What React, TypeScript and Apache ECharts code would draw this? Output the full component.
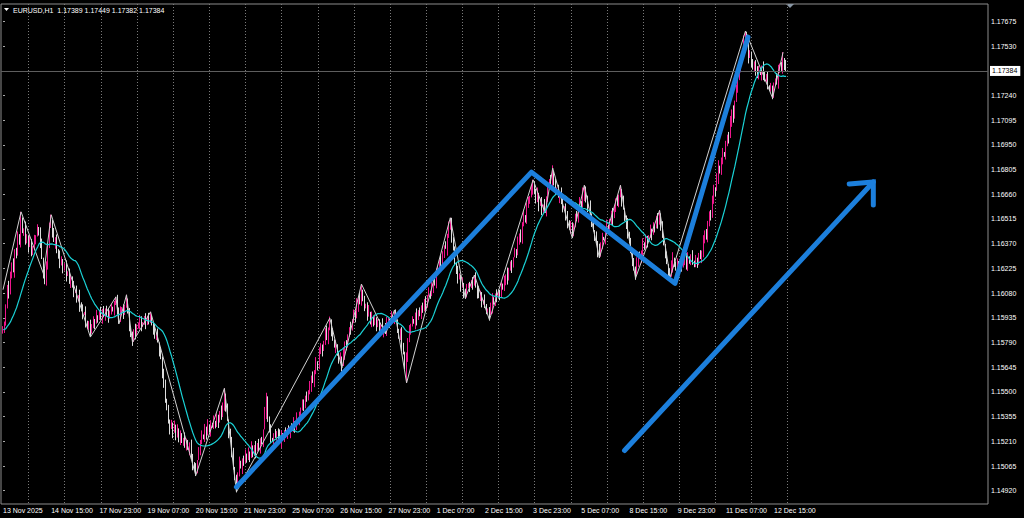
import { useEffect, useRef } from "react";
import * as echarts from "echarts";

// ---------- DATA ----------
const symbolText = "EURUSD,H1";
const headerOHLC = ["1.17389", "1.17449", "1.17382", "1.17384"]; // last bar O H L C

const yTickLabels = [
  "1.17675", "1.17530", "1.17240", "1.17095", "1.16950", "1.16805", "1.16660",
  "1.16515", "1.16370", "1.16225", "1.16080", "1.15935", "1.15790", "1.15645",
  "1.15500", "1.15355", "1.15210", "1.15065", "1.14920",
];

const xTickLabels = [
  "13 Nov 2025", "14 Nov 15:00", "17 Nov 23:00", "19 Nov 07:00", "20 Nov 15:00",
  "21 Nov 23:00", "25 Nov 07:00", "26 Nov 15:00", "27 Nov 23:00", "1 Dec 07:00",
  "2 Dec 15:00", "3 Dec 23:00", "5 Dec 07:00", "8 Dec 15:00", "9 Dec 23:00",
  "11 Dec 07:00", "12 Dec 15:00",
];
const xTickBars = [0, 32, 64, 96, 128, 160, 192, 224, 256, 288, 320, 352, 384, 416, 448, 480, 512];

// first hourly bar of each trading day (vertical dotted grid)
const dayStartBars = [17, 41, 65, 89, 113, 137, 161, 185, 209, 233, 257, 281, 305, 329, 353, 377, 401, 425, 449, 473, 497, 521];

// hourly closes, in 1e-5 units above 1.00000 (15870 = 1.15870)
const closes = [
  15870, 15905, 15990, 16120, 16080, 16190, 16260, 16210, 16330, 16300,
  16410, 16380, 16500, 16440, 16460, 16380, 16410, 16350, 16390, 16320,
  16340, 16390, 16420, 16460, 16450, 16360, 16280, 16190, 16140, 16250,
  16360, 16470, 16510, 16430, 16380, 16400, 16330, 16290, 16250, 16280,
  16220, 16240, 16180, 16200, 16150, 16170, 16120, 16080, 16100, 16040,
  16060, 16010, 15990, 15950, 15970, 15910, 15880, 15900, 15850, 15890,
  15920, 15900, 15950, 15930, 15960, 15940, 15980, 15950, 15990, 15960,
  15930, 15970, 16000, 15980, 16010, 16030, 15980, 15950, 15970, 15990,
  15960, 16010, 16040, 15960, 15880, 15830, 15810, 15860, 15840, 15880,
  15900, 15920, 15880, 15910, 15930, 15900, 15940, 15920, 15950, 15890,
  15860, 15820, 15840, 15790, 15740, 15700, 15620, 15540, 15460, 15400,
  15330, 15290, 15320, 15260, 15300, 15240, 15270, 15220, 15250, 15200,
  15230, 15180, 15210, 15160, 15180, 15120, 15080, 15050, 15030, 15100,
  15160, 15210, 15250, 15230, 15280, 15260, 15300, 15270, 15310, 15290,
  15330, 15310, 15350, 15320, 15380, 15360, 15430, 15490, 15400, 15330,
  15260, 15220, 15140, 15060, 14990, 14950, 15020, 15080, 15050, 15110,
  15090, 15130, 15100, 15150, 15120, 15170, 15140, 15180, 15150, 15200,
  15170, 15220, 15200, 15280, 15380, 15450, 15340, 15270, 15230, 15210,
  15250, 15230, 15270, 15240, 15210, 15250, 15230, 15260, 15240, 15280,
  15260, 15300, 15280, 15320, 15300, 15340, 15320, 15360, 15400, 15440,
  15420, 15470, 15450, 15510, 15540, 15580, 15560, 15620, 15680, 15650,
  15730, 15770, 15740, 15800, 15850, 15820, 15870, 15910, 15850, 15800,
  15760, 15780, 15720, 15690, 15700, 15660, 15720, 15780, 15760, 15830,
  15880, 15860, 15920, 15960, 15940, 16010, 16050, 16030, 16100, 16040,
  15990, 16010, 15950, 15970, 15920, 15940, 15900, 15930, 15880, 15910,
  15870, 15900, 15860, 15880, 15860, 15900, 15920, 15900, 15950, 15930,
  15960, 15910, 15870, 15820, 15840, 15780, 15720, 15650, 15700, 15800,
  15860, 15900, 15920, 15900, 15950, 15930, 15980, 15960, 16000, 15980,
  16030, 16010, 16060, 16090, 16070, 16120, 16160, 16140, 16200, 16240,
  16270, 16250, 16310, 16360, 16340, 16420, 16460, 16490, 16400, 16330,
  16260, 16200, 16160, 16180, 16120, 16140, 16090, 16070, 16110, 16130,
  16110, 16150, 16140, 16170, 16120, 16080, 16050, 16070, 16020, 16040,
  16000, 15980, 15990, 15950, 16000, 16040, 16020, 16070, 16050, 16090,
  16070, 16120, 16100, 16150, 16190, 16170, 16220, 16250, 16230, 16290,
  16330, 16310, 16380, 16430, 16410, 16480, 16530, 16510, 16580, 16620,
  16650, 16690, 16720, 16660, 16630, 16660, 16600, 16620, 16570, 16600,
  16570, 16640, 16700, 16750, 16730, 16790, 16720, 16680, 16700, 16640,
  16660, 16610, 16570, 16590, 16530, 16500, 16460, 16480, 16430, 16490,
  16530, 16510, 16580, 16620, 16600, 16660, 16690, 16620, 16580, 16600,
  16540, 16500, 16450, 16410, 16370, 16330, 16310, 16370, 16410, 16390,
  16440, 16480, 16460, 16500, 16540, 16520, 16580, 16620, 16600, 16650,
  16690, 16620, 16570, 16520, 16480, 16440, 16380, 16330, 16270, 16220,
  16190, 16250, 16300, 16280, 16330, 16370, 16350, 16400, 16380, 16420,
  16450, 16430, 16480, 16460, 16510, 16490, 16540, 16470, 16420, 16360,
  16300, 16250, 16210, 16200, 16240, 16280, 16250, 16220, 16260, 16240,
  16270, 16230, 16260, 16290, 16250, 16280, 16260, 16300, 16270, 16240,
  16280, 16260, 16300, 16280, 16330, 16380, 16440, 16410, 16480, 16560,
  16530, 16620, 16700, 16680, 16760, 16820, 16790, 16860, 16900, 16880,
  16950, 17010, 16990, 17080, 17150, 17120, 17210, 17280, 17330, 17400,
  17450, 17500, 17560, 17590, 17520, 17460, 17490, 17430, 17400, 17440,
  17380, 17350, 17390, 17360, 17400, 17370, 17330, 17350, 17300, 17270,
  17290, 17250, 17300, 17340, 17320, 17380, 17420, 17400, 17460, 17389,
  17384,
];
const firstOpen = 15850;

// wick sizes per bar (base-36 digit, x8 in 1e-5 units)
const wickUp =
  "2131420312421305213124031251421320413152024132140315230412313140251302" +
  "4120315241302140315214302413202514031240312041523104213521402130425131" +
  "4032151204132403152024130521403120413250140253124130241503122140325130" +
  "4210351423130241523104132514203125041312204135213013204512424031250213" +
  "2413052130142031524130521402312130415320420135214013240512302140325143" +
  "0312451230412035140215302413202413051240312042513014023512413041250312" +
  "2513041320412035214013024512312041352140312405123014203512413025140312" +
  "21403521301430251240312045123014025312412131420312";
const wickDown =
  "1320413152024132140321314203124213052131314025130215230412312403125142" +
  "3021403152412031524114302413203120415231251403124021304251310421352140" +
  "1324031520403215120431204132502413052140302415031214025312414210351423" +
  "2140325130041325142013024152312041352130312504131240312502131320451242" +
  "1420315241241305213021304153203052140231132405123042013521400312451230" +
  "2140325143153024132041203514023120425130241305124030412503121402351241" +
  "4120352140251304132020413521401302451231142035124131240512302140352130" +
  "30251403123120451230143025124014025312411320413152";
const wickUnit = 8;

// pre-chart closes (for the moving average warm-up only)
const warmupCloses = [15850, 15880, 15860, 15840, 15870, 15890, 15860, 15850, 15880, 15870,
  15840, 15860, 15880, 15870, 15850, 15860, 15890, 15870, 15850, 15860];
const maPeriod = 20;

// ZigZag turning points [bar, price]
const zigzag = [
  [0, 16100], [12, 16557], [27, 16190], [32, 16540], [58, 15822], [75, 16058], [77, 15900],
  [82, 16070], [86, 15790], [98, 15970], [128, 15010], [147, 15521], [155, 14913], [217, 15933],
  [225, 15640], [238, 16133], [254, 15840], [260, 15981], [268, 15553], [297, 16522], [307, 16050],
  [313, 16186], [323, 15923], [352, 16745], [360, 16550], [365, 16814], [378, 16403], [386, 16713],
  [396, 16286], [410, 16713], [420, 16167], [436, 16566], [443, 16173], [493, 17618], [511, 17225],
  [518, 17494],
];
const spikes = [[175, 15495]];

// hand-drawn objects [bar, price]
const trendPath = [[155.0, 14942], [350.9, 16790], [446.2, 16137], [494.7, 17583]];
const arrowShaft = [[412.7, 15156], [577.9, 16732]];
const arrowHead = [[561.9, 16720], [577.9, 16732], [577.9, 16597]];

// ---------- LAYOUT / STYLE ----------
const W = 1024;
const H = 518;
const GRID = { left: 1, right: 36, top: 4, bottom: 14 };
const PX_PER_BAR = 1.506;
const FIRST_BAR_X = 3;
const Y_MIN = 14842;
const Y_MAX = 17777;
const FONT = "Liberation Sans";
const BULL = "#EE168C";
const BEAR = "#DCDCDC";
const BLUE = "#1C7FDC";

const toVal = (s: string) => Math.round((parseFloat(s) - 1) * 1e5);

export default function App() {
  const ref = useRef<HTMLDivElement>(null);

  useEffect(() => {
    document.body.style.margin = "0";
    document.body.style.background = "#000";
    const chart = echarts.init(ref.current!, null, { renderer: "svg" });

    const xMin = (GRID.left - FIRST_BAR_X) / PX_PER_BAR;
    const xMax = xMin + (W - GRID.left - GRID.right) / PX_PER_BAR;

    const last = headerOHLC.map(toVal);
    const candles = closes.map((c, i) => {
      const o = i === 0 ? firstOpen : closes[i - 1];
      const h = Math.max(o, c) + parseInt(wickUp[i] ?? "1", 36) * wickUnit;
      const l = Math.min(o, c) - parseInt(wickDown[i] ?? "1", 36) * wickUnit;
      return [i, o, c, l, h];
    });
    [...zigzag.slice(1), ...spikes].forEach(([i, v]) => {
      const d = candles[i];
      if (!d) return;
      if (v >= d[2]) d[4] = Math.max(d[4], v);
      else d[3] = Math.min(d[3], v);
    });
    const li = candles.length - 1;
    candles[li] = [li, last[0], last[3], last[2], last[1]];

    const all = [...warmupCloses, ...closes];
    const ma = closes.map((_, i) => {
      const end = warmupCloses.length + i;
      let s = 0;
      for (let k = end - maPeriod + 1; k <= end; k++) s += all[k];
      return [i, s / maPeriod];
    });

    const yTickValues = yTickLabels.map(toVal);

    chart.setOption({
      animation: false,
      backgroundColor: "#000",
      grid: {
        ...GRID,
        show: true,
        borderColor: "#8c8c8c",
        borderWidth: 1,
        backgroundColor: "#000",
      },
      xAxis: {
        type: "value",
        min: xMin,
        max: xMax,
        axisLine: { show: false },
        axisTick: { show: false, customValues: dayStartBars },
        splitLine: { show: true, lineStyle: { color: "#7a7a7a", type: [1, 2], width: 1 } },
        axisLabel: {
          customValues: xTickBars,
          formatter: (v: number) => xTickLabels[xTickBars.indexOf(Math.round(v))] ?? "",
          color: "#ffffff",
          fontSize: 7,
          fontFamily: FONT,
          align: "left",
          margin: 3,
        },
      },
      yAxis: {
        type: "value",
        position: "right",
        min: Y_MIN,
        max: Y_MAX,
        axisLine: { show: false },
        axisTick: { show: true, length: 2, lineStyle: { color: "#aaaaaa" }, customValues: yTickValues },
        splitLine: { show: false },
        axisLabel: {
          customValues: yTickValues,
          formatter: (v: number) => yTickLabels[yTickValues.indexOf(Math.round(v))] ?? "",
          color: "#ffffff",
          fontSize: 7,
          fontFamily: FONT,
          margin: 3,
        },
      },
      graphic: [
        { type: "polygon", shape: { points: [[4, 8], [9, 8], [6.5, 11]] }, style: { fill: "#ffffff" } },
        {
          type: "text",
          x: 13,
          y: 10,
          style: {
            text: `${symbolText}  ${headerOHLC.join(" ")}`,
            fill: "#ffffff",
            fontSize: 7,
            fontFamily: FONT,
            textVerticalAlign: "middle",
          },
        },
        { type: "polygon", shape: { points: [[786, 4], [794, 4], [790, 8]] }, style: { fill: "#8896a4" } },
      ],
      series: [
        {
          type: "candlestick",
          data: candles,
          barWidth: 1,
          z: 2,
          silent: true,
          itemStyle: {
            color: BULL,
            color0: BEAR,
            borderColor: BULL,
            borderColor0: BEAR,
            borderWidth: 1,
          },
          markLine: {
            symbol: ["none", "none"],
            silent: true,
            data: [{ yAxis: last[3] }],
            lineStyle: { color: "#5e5e5e", width: 1, type: "solid" },
            label: {
              show: true,
              position: "end",
              formatter: headerOHLC[3],
              color: "#000",
              backgroundColor: "#ffffff",
              fontSize: 7,
              fontFamily: FONT,
              padding: [2, 3, 1, 2],
              distance: 2,
            },
          },
        },
        {
          type: "line",
          data: zigzag,
          symbol: "none",
          silent: true,
          z: 3,
          lineStyle: { color: "#d2d2d2", width: 1 },
        },
        {
          type: "line",
          data: ma,
          symbol: "none",
          silent: true,
          z: 4,
          lineStyle: { color: "#1ad2d6", width: 1.2 },
        },
        {
          type: "line",
          data: trendPath,
          symbol: "none",
          silent: true,
          z: 6,
          lineStyle: { color: BLUE, width: 5, cap: "round", join: "round" },
        },
        {
          type: "line",
          data: arrowShaft,
          symbol: "none",
          silent: true,
          z: 6,
          lineStyle: { color: BLUE, width: 5, cap: "round" },
        },
        {
          type: "line",
          data: arrowHead,
          symbol: "none",
          silent: true,
          z: 6,
          lineStyle: { color: BLUE, width: 5, cap: "round", join: "miter" },
        },
      ],
    });

    return () => chart.dispose();
  }, []);

  return <div ref={ref} style={{ width: W, height: H, background: "#000" }} />;
}
